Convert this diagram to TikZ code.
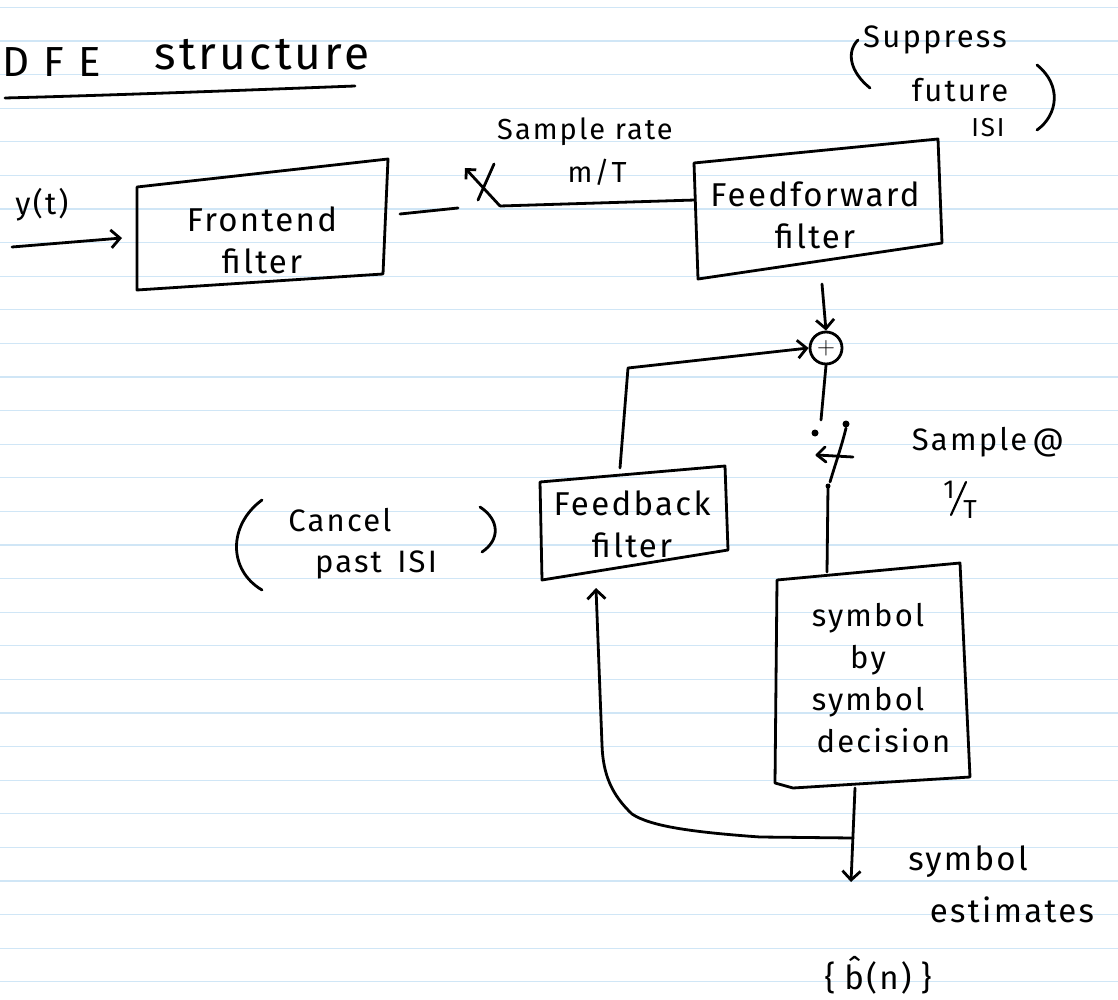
\documentclass[tikz,border=0pt]{standalone}
\usepackage{fontspec}
\setmainfont{Fira Sans}[LetterSpace=7]
\usetikzlibrary{arrows.meta}
\definecolor{rulecol}{RGB}{208,230,246}
\begin{document}
\begin{tikzpicture}[x=1pt,y=-1pt,
  ink/.style={line width=2.8pt,line cap=round,line join=round},
  arr/.style={ink,-{Straight Barb[length=9pt,width=18pt]}},
  lbl/.style={inner sep=0pt,align=center,font=\fontsize{33}{42}\selectfont},
  note/.style={inner sep=0pt,align=center,font=\fontsize{31}{40}\selectfont},
  rule/.style={rulecol,line width=1.3pt}]
\useasboundingbox (0,0) rectangle (1118,1000);
\fill[white] (0,0) rectangle (1118,1000);
\foreach \k in {0,...,29}{\draw[rule] (0,{7.4+33.6*\k}) -- (1118,{7.4+33.6*\k});}

% title
\node[inner sep=0pt,font=\fontsize{42}{48}\selectfont] (dfe) at (52,62) {D F E};
\node[inner sep=0pt,font=\fontsize{46}{50}\selectfont] (strc) at (262,55) {structure};
\draw[ink] (5,98) .. controls (120,95) and (250,90) .. (355,86);

% input
\node[note] (yt) at (42,205) {y(t)};
\coordinate (in0) at (12,247);
\coordinate (in1) at (122,238);
\draw[arr] (in0) -- (in1);

% front end filter
\draw[ink] (137,187) -- (388,159) -- (383,274) -- (137,290) -- cycle;
\node[lbl] (fe) at (262,240) {Frontend\\filter};
\coordinate (feout) at (400,214);
\coordinate (swin) at (458,208);
\draw[ink] (feout) -- (swin);

% sampling switch m/T
\coordinate (swa) at (465,168);
\coordinate (swb) at (500,206);
\draw[ink,{Straight Barb[length=7pt,width=14pt]}-] (swa) -- (swb);
\draw[ink] (494,164) -- (478,200);
\coordinate (ffin) at (695,200);
\draw[ink] (swb) -- (ffin);
\node[inner sep=0pt,font=\fontsize{29}{32}\selectfont] (srate) at (585,132) {Sample rate};
\node[inner sep=0pt,font=\fontsize{29}{32}\selectfont] (mT) at (597,172) {m/T};

% feedforward filter
\draw[ink] (694,163) -- (938,139) -- (942,243) -- (698,279) -- cycle;
\node[lbl] (ff) at (815,215) {Feedforward\\filter};

% suppress future ISI
\node[note] (sup1) at (935,40) {Suppress};
\node[note] (sup2) at (960,90) {future};
\node[inner sep=0pt,font=\fontsize{26}{28}\selectfont] (sup3) at (988,128) {ISI};
\draw[ink] (858,40) .. controls (846,52) and (850,72) .. (870,88);
\draw[ink] (1037,65) .. controls (1062,85) and (1058,115) .. (1037,130);

% summer
\node[circle,draw,ink,minimum size=32pt,inner sep=0pt,font=\fontsize{26}{26}\selectfont] (sum) at (826,348) {$+$};
\coordinate (ffout) at (822,284);
\draw[arr] (ffout) -- (sum.north);

% feedback to summer
\coordinate (fbtop) at (620,468);
\coordinate (fbc) at (628,368);
\draw[arr] (fbtop) -- (fbc) -- (sum.west);

% sampler 1/T
\coordinate (sd0) at (821,420);
\draw[ink] (sum.south) -- (sd0);
\fill (815,433) circle (3.5pt);
\fill (846,424) circle (3.5pt);
\draw[ink] (846,428) .. controls (842,445) and (835,465) .. (830,482);
\draw[ink] (825,447) -- (817,455) -- (826,462);
\draw[ink] (817,455) -- (853,457);
\coordinate (sdout) at (828,486);
\fill (sdout) circle (2.5pt);
\coordinate (decin) at (827,572);
\draw[ink] (sdout) -- (decin);
\node[note] (samp) at (988,442) {Sample\,@};
\node[inner sep=0pt,font=\fontsize{26}{28}\selectfont] (one) at (949,490) {1};
\node[inner sep=0pt,font=\fontsize{26}{28}\selectfont] (tee) at (970,510) {T};
\draw[line width=2.2pt,line cap=round] (951,515) -- (966,482);

% decision
\draw[ink] (777,580) -- (960,563) -- (970,777) -- (793,788) -- (775,783) -- cycle;
\node[inner sep=0pt,align=center,font=\fontsize{31}{42}\selectfont] (dec) at (868,678)
  {symbol\\by\\symbol\\\hspace*{1.0em}decision};

% output
\coordinate (decout) at (855,788);
\coordinate (est) at (851,882);
\draw[arr] (decout) -- (est);

% feedback filter
\draw[ink] (540,482) -- (725,466) -- (728,550) -- (542,580) -- cycle;
\node[lbl] (fb) at (632,524) {Feedback\\filter};
\coordinate (split) at (853,838);
\coordinate (fbin) at (596,588);
\draw[arr] (split) -- (760,837) .. controls (690,832) and (650,826) .. (632,814)
  .. controls (612,795) and (603,775) .. (602,745) -- (fbin);

% cancel past ISI
\node[note] (c1) at (340,520) {Cancel};
\node[note] (c2) at (376,565) {past\, ISI};
\draw[ink] (262,500) .. controls (228,525) and (228,570) .. (262,590);
\draw[ink] (480,507) .. controls (500,520) and (500,540) .. (482,552);

% estimates
\node[note,font=\fontsize{33}{40}\selectfont] (se1) at (968,862) {symbol};
\node[note,font=\fontsize{33}{40}\selectfont] (se2) at (1012,910) {estimates};
\node[inner sep=0pt,font=\fontsize{33}{40}\selectfont] (bn) at (878,975) {\{\;\^{b}(n)\;\}};
\end{tikzpicture}
\end{document}
